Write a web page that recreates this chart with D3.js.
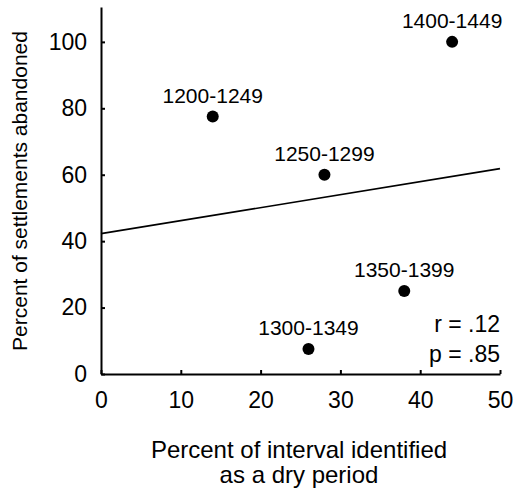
<!DOCTYPE html>
<html>
<head>
<meta charset="utf-8">
<script src="https://cdn.jsdelivr.net/npm/d3@7"></script>
<style>
  html, body { margin: 0; padding: 0; background: #fff; }
  svg { display: block; font-family: "Liberation Sans", Arial, sans-serif; }
</style>
</head>
<body>
<svg id="chart" width="515" height="493"></svg>
<script>
// Time intervals and their values
const periods = ["1200-1249", "1250-1299", "1300-1349", "1350-1399", "1400-1449"];
const dryPercent = [14, 28, 26, 38, 44];          // % of interval identified as a dry period
const abandonedPercent = [77.5, 60, 7.5, 25, 100]; // % of settlements abandoned
const xTicks = [0, 10, 20, 30, 40, 50];
const yTicks = [0, 20, 40, 60, 80, 100];
const statLines = ["r = .12", "p = .85"];

const svg = d3.select("#chart");

const x = d3.scaleLinear().domain([0, 50]).range([101, 500]);
const y = d3.scaleLinear().domain([0, 110.5]).range([374, 7]);

// Least-squares fit through the points
const n = dryPercent.length;
const mx = d3.mean(dryPercent), my = d3.mean(abandonedPercent);
let sxy = 0, sxx = 0;
for (let i = 0; i < n; i++) {
  sxy += (dryPercent[i] - mx) * (abandonedPercent[i] - my);
  sxx += (dryPercent[i] - mx) ** 2;
}
const slope = sxy / sxx, intercept = my - slope * mx;

// Axes with inward ticks
const xAxis = svg.append("g")
  .attr("transform", "translate(0,374)")
  .call(d3.axisBottom(x).tickValues(xTicks).tickSizeInner(-4).tickSizeOuter(0).tickPadding(18));
const yAxis = svg.append("g")
  .attr("transform", "translate(101,0)")
  .call(d3.axisLeft(y).tickValues(yTicks).tickSizeInner(-4).tickSizeOuter(0).tickPadding(14));

[xAxis, yAxis].forEach(g => {
  g.attr("font-family", null).attr("font-size", null);
  g.select(".domain").attr("stroke", "#000").attr("stroke-width", 2);
  g.selectAll(".tick line").attr("stroke", "#000").attr("stroke-width", 2);
  g.selectAll(".tick text").attr("fill", "#000").style("font-size", "23px");
});

// Regression line
svg.append("line")
  .attr("x1", x(0)).attr("y1", y(intercept))
  .attr("x2", x(50)).attr("y2", y(intercept + slope * 50))
  .attr("stroke", "#000").attr("stroke-width", 1.7);

// Points and their interval labels
const pts = periods.map((p, i) => ({ label: p, dx: dryPercent[i], ab: abandonedPercent[i] }));
svg.selectAll("circle.pt").data(pts).join("circle")
  .attr("class", "pt")
  .attr("cx", d => x(d.dx)).attr("cy", d => y(d.ab))
  .attr("r", 6).attr("fill", "#000");
svg.selectAll("text.pl").data(pts).join("text")
  .attr("class", "pl")
  .attr("x", d => x(d.dx)).attr("y", d => y(d.ab) - 14)
  .attr("text-anchor", "middle")
  .style("font-size", "21px")
  .text(d => d.label);

// Correlation statistics
svg.selectAll("text.stat").data(statLines).join("text")
  .attr("class", "stat")
  .attr("x", 500).attr("y", (d, i) => 332 + i * 30)
  .attr("text-anchor", "end")
  .style("font-size", "23px")
  .text(d => d);

// Axis titles
svg.append("text")
  .attr("transform", "translate(27,191) rotate(-90)")
  .attr("text-anchor", "middle")
  .style("font-size", "21px")
  .text("Percent of settlements abandoned");

const xt = svg.append("text")
  .attr("text-anchor", "middle")
  .style("font-size", "24px");
xt.append("tspan").attr("x", 299).attr("y", 458).text("Percent of interval identified");
xt.append("tspan").attr("x", 299).attr("y", 483).text("as a dry period");
</script>
</body>
</html>
